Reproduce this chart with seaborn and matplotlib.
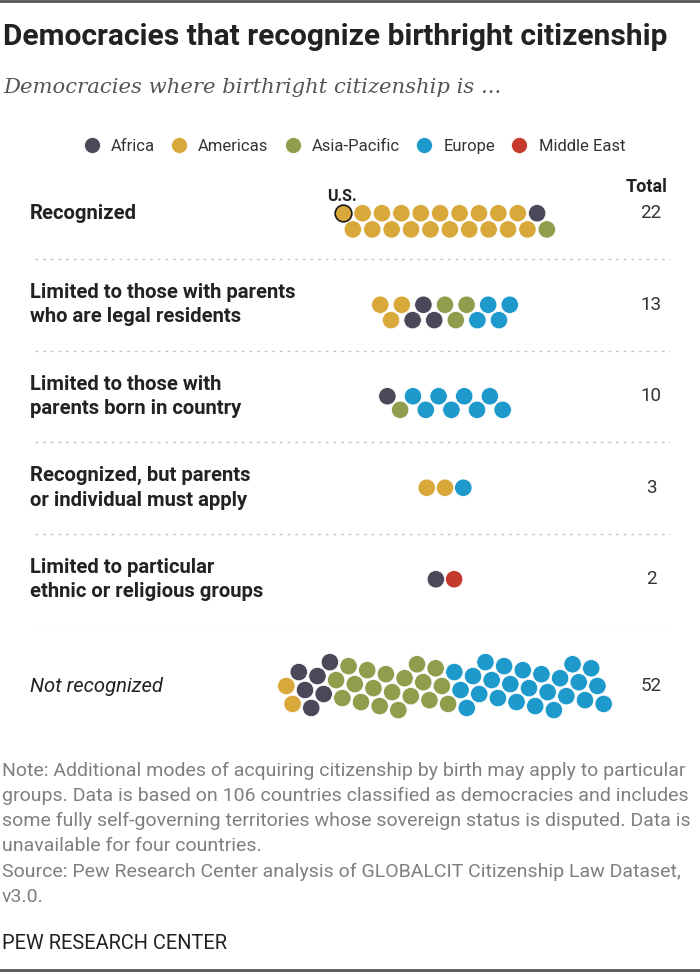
import numpy as np
import pandas as pd
import matplotlib
matplotlib.use("Agg")
import matplotlib.pyplot as plt
import seaborn as sns

# Linhas do gráfico (categorias)
categories = [
    "Recognized",
    "Limited to those with parents\nwho are legal residents",
    "Limited to those with\nparents born in country",
    "Recognized, but parents\nor individual must apply",
    "Limited to particular\nethnic or religious groups",
    "Not recognized",
]
regions = ["Africa", "Americas", "Asia-Pacific", "Europe", "Middle East"]

# Número de países por região em cada categoria
africa = [1, 3, 1, 0, 1, 6]
americas = [20, 3, 0, 2, 0, 2]
asia_pacific = [1, 3, 1, 0, 0, 19]
europe = [0, 4, 8, 1, 0, 25]
middle_east = [0, 0, 0, 0, 1, 0]
highlight = "U.S."  # primeiro país das Américas em "Recognized"

colors = {
    "Africa": "#4d4859",
    "Americas": "#d8a93a",
    "Asia-Pacific": "#8e9e4c",
    "Europe": "#1d9acb",
    "Middle East": "#c6392d",
}

# ordem dos pontos dentro de cada linha
swarm_order = ["Americas", "Africa", "Asia-Pacific", "Europe", "Middle East"]
counts = dict(zip(regions, [africa, americas, asia_pacific, europe, middle_east]))
# espaçamento horizontal dos pontos em cada linha (em diâmetros)
spread = [0.53, 0.59, 0.70, 1.0, 1.0, 0.34]

rows = []
for ci, cat in enumerate(categories):
    n = sum(counts[r][ci] for r in regions)
    rank = 0
    for reg in swarm_order:
        for k in range(counts[reg][ci]):
            name = highlight if (ci == 0 and reg == "Americas" and k == 0) else ""
            rows.append({"category": cat, "region": reg, "country": name,
                         "pos": (rank - (n - 1) / 2) * spread[ci]})
            rank += 1
df = pd.DataFrame(rows)

top_cats = categories[:-1]
top = df[df["category"].isin(top_cats)].reset_index(drop=True)
bottom = df[df["category"] == categories[-1]].reset_index(drop=True)

sns.set_style("white")
plt.rcParams["font.family"] = ["Roboto", "DejaVu Sans"]

W, H = 700, 972
fig = plt.figure(figsize=(W / 100, H / 100), dpi=100)
unit = 18.3  # px por diâmetro
xlim = (-445 / unit, (W - 445) / unit)

ax1 = fig.add_axes([0, 1 - 625 / H, 1, 457.5 / H])
ax2 = fig.add_axes([0, 1 - 732 / H, 1, 92 / H])

kw = dict(x="pos", y="category", hue="region", hue_order=regions, palette=colors,
          orient="h", size=12.55, linewidth=0.55, edgecolor="white")
sns.swarmplot(data=top, order=top_cats, ax=ax1, **kw)
sns.swarmplot(data=bottom, order=categories[-1:], ax=ax2, legend=False, **kw)

for ax, n in [(ax1, len(top_cats)), (ax2, 1)]:
    ax.set_xlim(*xlim)
    ax.set_ylim(n - 0.5, -0.5)
    ax.axis("off")

sns.move_legend(ax1, "center", bbox_to_anchor=(350 / W, 1 + 21.5 / 457.5), ncol=5,
                frameon=False, title=None, handletextpad=0.15, columnspacing=0.45,
                fontsize=12, markerscale=0.92)
for t in ax1.get_legend().get_texts():
    t.set_color("#333333")

# separadores tracejados
for y in np.arange(len(top_cats)) + 0.5:
    ax1.axhline(y, xmin=35 / W, xmax=670 / W, color="#c4c4c4", lw=1, dashes=(2, 3.5))

# rótulos e totais
totals = df.groupby("category", sort=False).size()
for ax, cats in [(ax1, top_cats), (ax2, categories[-1:])]:
    tr = ax.get_yaxis_transform()
    for i, cat in enumerate(cats):
        italic = cat == "Not recognized"
        ax.text(30 / W, i, cat, transform=tr, ha="left", va="center",
                fontsize=14.6, color="#222222", linespacing=1.36,
                fontweight="normal" if italic else "bold",
                fontstyle="italic" if italic else "normal")
        ax.text(651 / W, i, str(totals[cat]), transform=tr, ha="center",
                va="center", fontsize=13.5, color="#333333")

fig.text(647 / W, 1 - 187 / H, "Total", ha="center", va="center",
         fontsize=13, fontweight="bold", color="#222222")

# destaque dos EUA
fig.canvas.draw()
us_idx = np.flatnonzero(top.loc[top["category"] == top_cats[0], "country"] == highlight)[0]
ux, uy = ax1.collections[0].get_offsets()[us_idx]
ax1.scatter([ux], [uy], s=12.0 ** 2, color=colors["Americas"], edgecolor="#1a1a1a",
            linewidth=1.2, zorder=5)
ax1.annotate(highlight, xy=(ux, uy), xytext=(-1, 7), textcoords="offset points",
             ha="center", va="bottom", fontsize=11.5, fontweight="bold", color="#222222")

# título, subtítulo e notas
fig.text(3 / W, 1 - 45 / H, "Democracies that recognize birthright citizenship",
         ha="left", va="baseline", fontsize=21.5, fontweight="bold", color="#222222")
fig.text(3 / W, 1 - 93 / H, "Democracies where birthright citizenship is ...",
         ha="left", va="baseline", fontsize=15.2, fontstyle="italic",
         family=["DejaVu Serif"], color="#555555")

note = ("Note: Additional modes of acquiring citizenship by birth may apply to particular\n"
        "groups. Data is based on 106 countries classified as democracies and includes\n"
        "some fully self-governing territories whose sovereign status is disputed. Data is\n"
        "unavailable for four countries.\n"
        "Source: Pew Research Center analysis of GLOBALCIT Citizenship Law Dataset,\n"
        "v3.0.")
fig.text(2 / W, 1 - 762 / H, note, ha="left", va="top", fontsize=14,
         color="#7f7f7f", linespacing=1.5)
fig.text(2 / W, 1 - 943 / H, "PEW RESEARCH CENTER", ha="left", va="center",
         fontsize=14.4, color="#222222")

for yy in [1 - 1 / H, 1 - 970 / H]:
    fig.add_artist(plt.Line2D([0, 1], [yy, yy], transform=fig.transFigure,
                              color="#555555", lw=2))

fig.savefig("out.png", dpi=100)
